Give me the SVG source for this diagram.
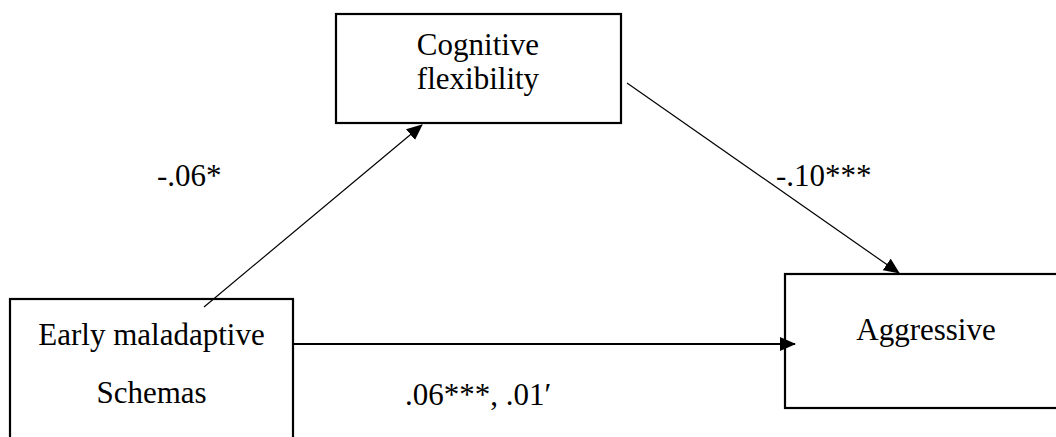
<svg xmlns="http://www.w3.org/2000/svg" width="1056" height="437" viewBox="0 0 1056 437">
  <style>
    .box { fill: #ffffff; stroke: #000000; stroke-width: 2.2; }
    .label { font-family: "Liberation Serif", "Times New Roman", serif; font-size: 31px; fill: #000000; text-anchor: middle; }
    .coef { font-family: "Liberation Serif", "Times New Roman", serif; font-size: 31px; fill: #000000; }
    .link { stroke: #000000; fill: none; }
  </style>
  <defs>
    <marker id="arrow" markerUnits="userSpaceOnUse" markerWidth="16" markerHeight="14" refX="15" refY="7" orient="auto">
      <path d="M0,0 L16,7 L0,14 Z" fill="#000000"/>
    </marker>
  </defs>
  <rect width="1056" height="437" fill="#ffffff"/>

  <!-- nodes -->
  <g id="node-cognitive-flexibility">
    <rect class="box" x="336" y="14" width="285" height="109"/>
    <text class="label" x="478" y="55">Cognitive</text>
    <text class="label" x="478" y="89">flexibility</text>
  </g>
  <g id="node-early-maladaptive-schemas">
    <rect class="box" x="10" y="299" width="283" height="200"/>
    <text class="label" x="151.5" y="345">Early maladaptive</text>
    <text class="label" x="151.5" y="403">Schemas</text>
  </g>
  <g id="node-aggressive">
    <rect class="box" x="785" y="274" width="320" height="134"/>
    <text class="label" x="926" y="340">Aggressive</text>
  </g>

  <!-- connectors -->
  <g id="connectors">
    <line class="link" x1="204" y1="307" x2="422" y2="125" stroke-width="1.2" marker-end="url(#arrow)"/>
    <line class="link" x1="627" y1="83" x2="899" y2="273" stroke-width="1.2" marker-end="url(#arrow)"/>
    <line class="link" x1="293" y1="344" x2="795" y2="344" stroke-width="2" marker-end="url(#arrow)"/>
  </g>

  <!-- path coefficients -->
  <g id="coefficients">
    <text class="coef" x="157" y="186">-.06*</text>
    <text class="coef" x="776" y="186">-.10***</text>
    <text class="coef" x="405" y="405">.06***, .01′</text>
  </g>
</svg>
